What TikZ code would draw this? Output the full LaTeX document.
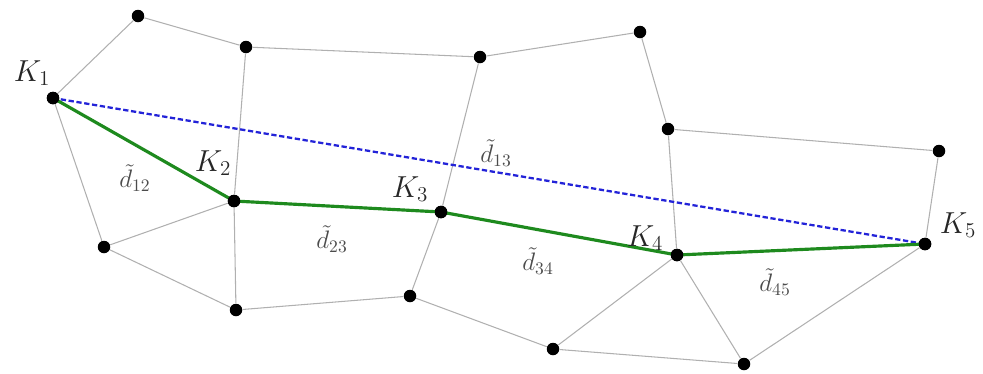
\documentclass[tikz,border=0pt]{standalone}
\usepackage{amsmath,amssymb}
\usepackage{tikz}
\usetikzlibrary{positioning,calc}
\definecolor{edgec}{HTML}{B0B0B0}
\definecolor{pathc}{HTML}{1E8A1E}
\definecolor{chordc}{HTML}{2323D8}
\tikzset{
  vtx/.style={circle, fill=black, draw=none, inner sep=0pt, minimum size=0.25cm},
  edge/.style={draw=edgec, line width=0.6pt},
  route/.style={draw=pathc, line width=1.8pt},
  chord/.style={draw=chordc, line width=1.3pt, dash pattern=on 3pt off 1.5pt},
  klab/.style={font=\LARGE, inner sep=0pt, text=black!85},
  dlab/.style={font=\Large, inner sep=0pt, text=black!70},
}

\begin{document}
\begin{tikzpicture}[x=0.02cm, y=-0.02cm]
    \useasboundingbox (0,0) rectangle (983,373);
    % key nodes
    \node[vtx] (k1) at (53,98) {};
    \node[vtx] (k2) at (234,201) {};
    \node[vtx] (k3) at (441,212) {};
    \node[vtx] (k4) at (677,255) {};
    \node[vtx] (k5) at (925,244) {};
    % other mesh nodes
    \node[vtx] (t1) at (138,16) {};
    \node[vtx] (t2) at (246,47) {};
    \node[vtx] (t3) at (480,57) {};
    \node[vtx] (t4) at (640,32) {};
    \node[vtx] (r1) at (668,129) {};
    \node[vtx] (r2) at (939,151) {};
    \node[vtx] (b1) at (104,247) {};
    \node[vtx] (b2) at (236,310) {};
    \node[vtx] (b3) at (410,296) {};
    \node[vtx] (b4) at (553,349) {};
    \node[vtx] (b5) at (744,364) {};
    \foreach \a/\b in {k1/t1,t1/t2,t2/t3,t3/t4,t4/r1,r1/r2,r2/k5,t2/k2,t3/k3,r1/k4,
                       k1/b1,b1/k2,b1/b2,k2/b2,b2/b3,b3/k3,b3/b4,b4/k4,b4/b5,k4/b5,b5/k5}
      \draw[edge] (\a) -- (\b);
    \draw[chord] (k1.center) -- (k5.center);
    \draw[route] (k1.center) -- (k2.center) -- (k3.center) -- (k4.center) -- (k5.center);
    \foreach \n in {k1,k2,k3,k4,k5} \fill (\n) circle (0.125cm);
    % labels
    \node[klab] (l1) at (32,73) {$K_1$};
    \node[klab] (l2) at (213,163) {$K_2$};
    \node[klab] (l3) at (410,189) {$K_3$};
    \node[klab] (l4) at (645,238) {$K_4$};
    \node[klab] (l5) at (958,225) {$K_5$};
    \node[dlab] (d12) at (135,178) {$\tilde d_{12}$};
    \node[dlab] (d23) at (332,239) {$\tilde d_{23}$};
    \node[dlab] (d34) at (538,261) {$\tilde d_{34}$};
    \node[dlab] (d13) at (496,153) {$\tilde d_{13}$};
    \node[dlab] (d45) at (775,282) {$\tilde d_{45}$};
\end{tikzpicture}
\end{document}
